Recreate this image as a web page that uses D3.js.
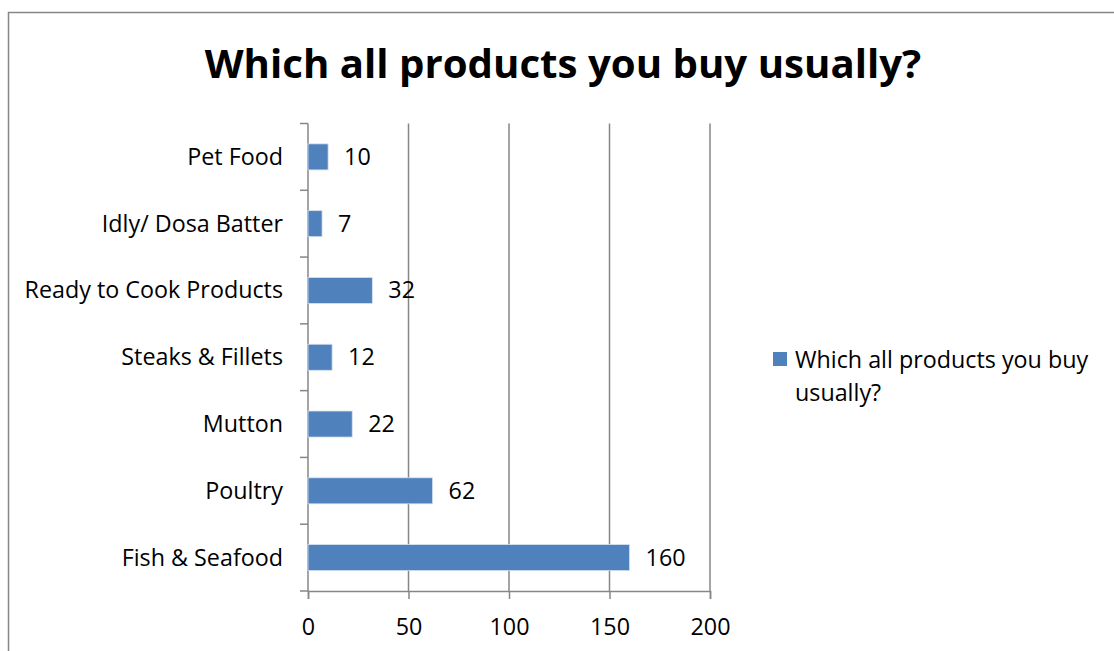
<!DOCTYPE html>
<html><head><meta charset="utf-8">
<script src="https://cdn.jsdelivr.net/npm/d3@7"></script>
<style>body{margin:0;background:#fff}svg{display:block}text{font-family:"Open Sans",sans-serif}</style>
</head><body>
<script>
const categories = ["Pet Food","Idly/ Dosa Batter","Ready to Cook Products","Steaks & Fillets","Mutton","Poultry","Fish & Seafood"];
const values = [10,7,32,12,22,62,160];
const xTicks = [0,50,100,150,200];
const title = "Which all products you buy usually?";
const seriesName = ["Which all products you buy","usually?"];

const W=1114,H=651;
const FS=23.3;
const svg=d3.select("body").append("svg").attr("width",W).attr("height",H);
svg.append("path").attr("d",`M8.5,${H} V12.5 H${W}`).attr("fill","none").attr("stroke","#868686").attr("stroke-width",1.5);

svg.append("text").attr("x",563).attr("y",77.5).attr("text-anchor","middle")
  .attr("font-size",40.2).attr("font-weight","bold").text(title);

const x=d3.scaleLinear().domain([0,200]).range([308,710]);
const y=d3.scaleBand().domain(categories).range([123.5,591]).paddingInner(0.61).paddingOuter(0.305);
const step=y.step();

// gridlines
svg.selectAll(".grid").data(xTicks.slice(1)).join("line")
  .attr("x1",d=>x(d)).attr("x2",d=>x(d)).attr("y1",123.5).attr("y2",591)
  .attr("stroke","#868686").attr("stroke-width",1.5);
// x axis
const xa=svg.append("g").attr("transform","translate(0,591)")
  .call(d3.axisBottom(x).tickValues(xTicks).tickSize(8).tickPadding(19));
xa.select(".domain").attr("stroke","#868686").attr("stroke-width",1.5);
xa.selectAll(".tick line").attr("stroke","#868686").attr("stroke-width",1.5);
xa.selectAll("text").attr("font-size",FS).attr("fill","#000").attr("font-family","'Open Sans',sans-serif");

// y axis line and boundary ticks
svg.append("line").attr("x1",308).attr("x2",308).attr("y1",123.5).attr("y2",591).attr("stroke","#868686").attr("stroke-width",1.5);
const bounds=d3.range(categories.length+1).map(i=>123.5+i*step);
svg.selectAll(".yt").data(bounds).join("line").attr("x1",300).attr("x2",308)
  .attr("y1",d=>d).attr("y2",d=>d).attr("stroke","#868686").attr("stroke-width",1.5);
svg.selectAll(".cl").data(categories).join("text").attr("x",283).attr("y",d=>y(d)+y.bandwidth()/2+8)
  .attr("text-anchor","end").attr("font-size",FS).text(d=>d);

// bars
svg.selectAll(".bar").data(values).join("rect")
  .attr("x",x(0)).attr("y",(d,i)=>y(categories[i])).attr("width",d=>x(d)-x(0)).attr("height",y.bandwidth())
  .attr("fill","#4F81BD").attr("stroke","#d6e2f0").attr("stroke-width",0.8);
svg.selectAll(".vl").data(values).join("text").attr("x",d=>x(d)+16).attr("y",(d,i)=>y(categories[i])+y.bandwidth()/2+8)
  .attr("font-size",FS).text(d=>d);

// legend
svg.append("rect").attr("x",773).attr("y",352).attr("width",14).attr("height",14).attr("fill","#4F81BD");
svg.selectAll(".lg").data(seriesName).join("text").attr("x",795).attr("y",(d,i)=>368+i*33)
  .attr("font-size",FS).text(d=>d);
</script>
</body></html>
